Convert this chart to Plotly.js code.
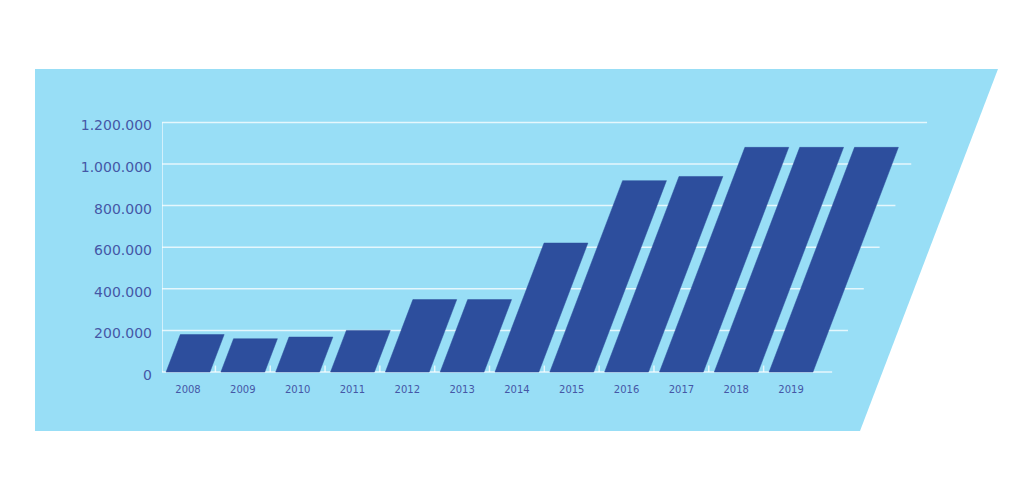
<!DOCTYPE html>
<html>
<head>
<meta charset="utf-8">
<script src="https://cdn.plot.ly/plotly-3.0.1.min.js"></script>
<style>html,body{margin:0;padding:0;background:#fff;}#chart{width:1024px;height:490px;}</style>
</head>
<body>
<div id="chart"></div>
<script>
// ---- data ----
const years = ['2008','2009','2010','2011','2012','2013','2014','2015','2016','2017','2018','2019'];
const values = [180000, 160000, 168000, 200000, 348000, 348000, 620000, 920000, 940000, 1080000, 1080000, 1080000];
const yTicks = [0, 200000, 400000, 600000, 800000, 1000000, 1200000];

// ---- style constants ----
const barColor = '#2d4e9d';
const bgColor = '#98def6';
const labelColor = '#4557a6';
const gridColor = 'rgba(255,255,255,0.75)';
const halfW = 0.4;           // half bar width (category units)
const skew = 1.443e-6;       // horizontal lean per value unit (category units)
const gridRight0 = 11.75;    // right end of the zero gridline (category units)

// bars as slanted parallelograms
const bx = [], by = [];
values.forEach((v, i) => {
  const s = v * skew;
  bx.push(i - halfW, i + halfW, i + halfW + s, i - halfW + s, i - halfW, null);
  by.push(0, 0, v, v, 0, null);
});

// gridlines with slanted right ends
const gx = [], gy = [];
yTicks.forEach(v => {
  gx.push(-0.4743, gridRight0 + v * skew, null);
  gy.push(v, v, null);
});
// vertical axis line
gx.push(-0.4743, -0.4743, null);
gy.push(0, yTicks[yTicks.length - 1], null);

// small boundary ticks between categories
const tx = [], ty = [];
for (let i = 0; i < years.length - 1; i++) {
  tx.push(i + 0.5, i + 0.5, null);
  ty.push(0, 31000, null);
}

const traces = [
  {x: gx, y: gy, mode: 'lines', line: {color: gridColor, width: 1.5}, hoverinfo: 'skip', showlegend: false},
  {x: tx, y: ty, mode: 'lines', line: {color: gridColor, width: 1.5}, hoverinfo: 'skip', showlegend: false},
  {x: bx, y: by, mode: 'lines', fill: 'toself', fillcolor: barColor, line: {color: barColor, width: 0.5}, hoverinfo: 'skip', showlegend: false}
];

const layout = {
  width: 1024, height: 490,
  margin: {l: 162, r: 24, t: 60, b: 113},
  paper_bgcolor: '#ffffff',
  plot_bgcolor: 'rgba(0,0,0,0)',
  separators: ',.',
  showlegend: false,
  font: {family: 'DejaVu Sans, sans-serif', color: labelColor},
  xaxis: {
    range: [-0.4743, 14.812], showgrid: false, zeroline: false, showline: false,
    tickmode: 'array', tickvals: years.map((y, i) => i), ticktext: years,
    ticks: '', ticklabelstandoff: 5,
    tickfont: {size: 10, color: labelColor}, fixedrange: true
  },
  yaxis: {
    range: [-24030, 1500000], showgrid: false, zeroline: false, showline: false,
    tickmode: 'array', tickvals: yTicks, tickformat: ',d',
    ticks: '', ticklabelstandoff: 9, ticklabelshift: 3,
    tickfont: {size: 14, color: labelColor}, fixedrange: true
  },
  shapes: [{
    type: 'path', xref: 'paper', yref: 'paper', layer: 'below',
    path: 'M -0.15155,0.97161 L 0.99761,0.97161 L 0.83294,-0.17035 L -0.15155,-0.17035 Z',
    fillcolor: bgColor, line: {width: 0}
  }]
};

Plotly.newPlot('chart', traces, layout, {displayModeBar: false, staticPlot: true});
</script>
</body>
</html>
